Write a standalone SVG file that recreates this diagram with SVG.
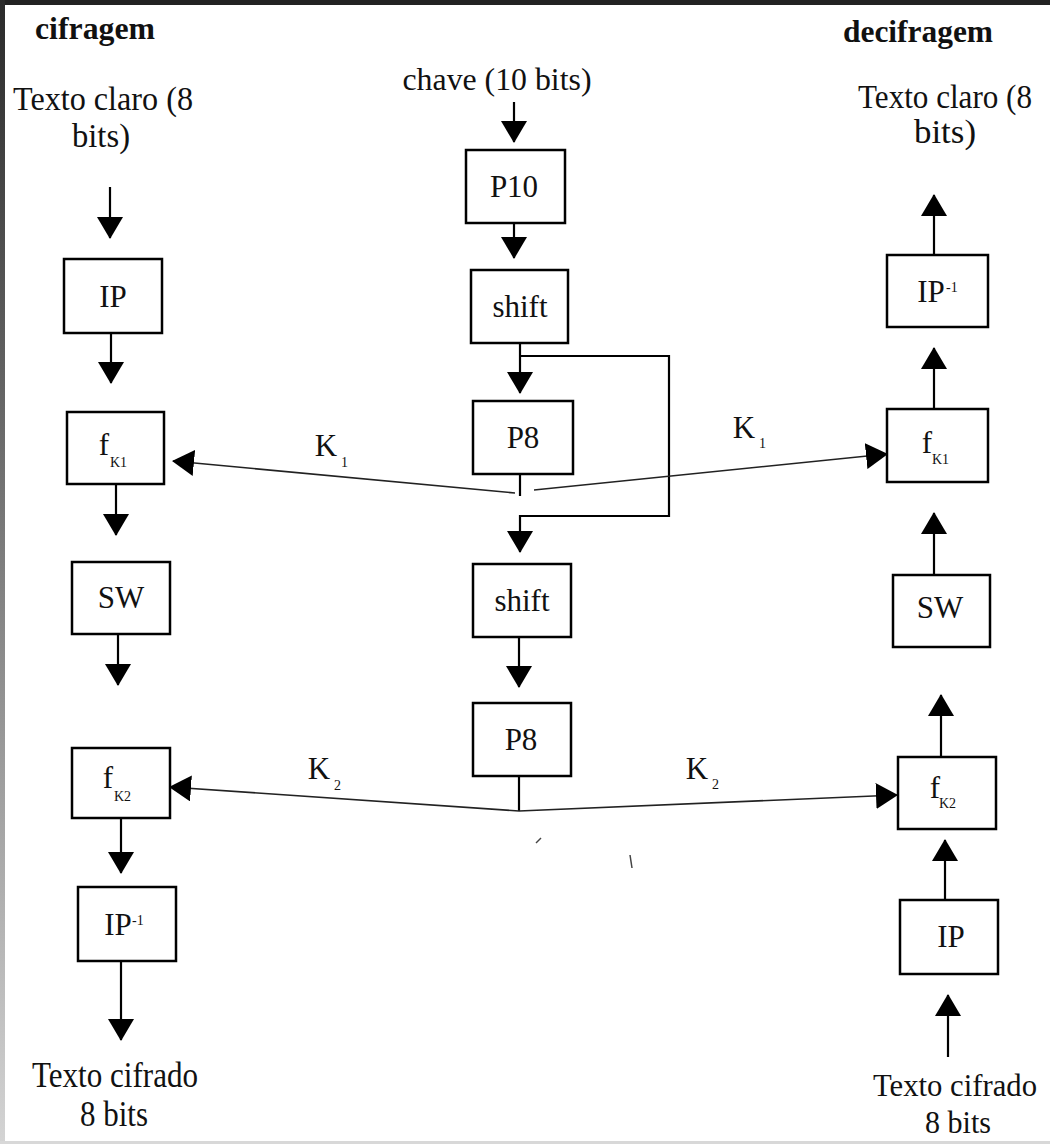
<svg xmlns="http://www.w3.org/2000/svg" width="1050" height="1144" viewBox="0 0 1050 1144">
<defs>
<linearGradient id="lb" x1="0" y1="0" x2="0" y2="1">
<stop offset="0" stop-color="#2a2a2a"/>
<stop offset="1" stop-color="#d4d4d4"/>
</linearGradient>
<marker id="ah" viewBox="0 0 22 26" refX="21" refY="13" markerWidth="22" markerHeight="26" markerUnits="userSpaceOnUse" orient="auto">
<path d="M0,0 L22,13 L0,26 Z" fill="#000"/>
</marker>
</defs>
<style>
.box{fill:#fff;stroke:#000;stroke-width:2.5}
.t{font-family:"Liberation Serif","Times New Roman",serif;font-size:31px;fill:#111;text-anchor:middle}
.m{font-size:33px}
.b{font-size:35px}
.h{font-weight:bold}
.s{font-family:"Liberation Serif","Times New Roman",serif;font-size:14px;fill:#111}
.c{fill:none;stroke:#000;stroke-width:2.2}
.k{fill:none;stroke:#222;stroke-width:1.6}
.a{marker-end:url(#ah)}
</style>
<rect x="0" y="0" width="1050" height="1144" fill="#fff"/>
<rect x="0" y="0" width="1050" height="5" fill="#222"/>
<rect x="0" y="0" width="5" height="1144" fill="url(#lb)"/>
<rect x="0" y="1141" width="1050" height="3" fill="#d8d8d8"/>

<g id="connectors">
<line class="c a" x1="110" y1="187" x2="110" y2="238"/>
<line class="c a" x1="111" y1="333" x2="111" y2="383"/>
<line class="c a" x1="116" y1="484" x2="116" y2="535"/>
<line class="c a" x1="118" y1="634" x2="118" y2="685"/>
<line class="c a" x1="121" y1="818" x2="121" y2="873"/>
<line class="c a" x1="121" y1="961" x2="121" y2="1040"/>

<line class="c a" x1="514" y1="102" x2="514" y2="142"/>
<line class="c a" x1="514" y1="223" x2="514" y2="258"/>
<line class="c a" x1="520" y1="343" x2="520" y2="393"/>
<path class="c a" d="M520,356 H669 V516 H520 V552"/>
<line class="c" x1="520" y1="474" x2="520" y2="496"/>
<line class="k a" x1="515" y1="493" x2="173" y2="461"/>
<line class="k a" x1="534" y1="490" x2="887" y2="454"/>
<line class="c a" x1="519" y1="637" x2="519" y2="687"/>
<line class="c" x1="519" y1="776" x2="519" y2="811"/>
<line class="k a" x1="519" y1="811" x2="170" y2="787"/>
<line class="k a" x1="519" y1="811" x2="897" y2="795"/>

<line class="c a" x1="934" y1="255" x2="934" y2="195"/>
<line class="c a" x1="934" y1="409" x2="934" y2="348"/>
<line class="c a" x1="934" y1="575" x2="934" y2="513"/>
<line class="c a" x1="941" y1="757" x2="941" y2="695"/>
<line class="c a" x1="945" y1="900" x2="945" y2="840"/>
<line class="c a" x1="948" y1="1057" x2="948" y2="995"/>

<line x1="536" y1="843" x2="541" y2="838" stroke="#444" stroke-width="1.5"/>
<line x1="630" y1="855" x2="632" y2="868" stroke="#444" stroke-width="1.5"/>
</g>

<g id="labels">
<text class="t h" x="95" y="39" textLength="120" lengthAdjust="spacingAndGlyphs">cifragem</text>
<text class="t h" x="918" y="42" textLength="150" lengthAdjust="spacingAndGlyphs">decifragem</text>
<text class="t m" x="103" y="110" textLength="180" lengthAdjust="spacingAndGlyphs">Texto claro (8</text>
<text class="t m" x="101" y="147" textLength="58" lengthAdjust="spacingAndGlyphs">bits)</text>
<text class="t m" x="945" y="108" textLength="174" lengthAdjust="spacingAndGlyphs">Texto claro (8</text>
<text class="t m" x="945" y="143" textLength="62" lengthAdjust="spacingAndGlyphs">bits)</text>
<text class="t" x="497" y="90" font-size="32" textLength="189" lengthAdjust="spacingAndGlyphs">chave (10 bits)</text>
<text class="t b" x="115" y="1087" textLength="166" lengthAdjust="spacingAndGlyphs">Texto cifrado</text>
<text class="t b" x="114" y="1126" textLength="68" lengthAdjust="spacingAndGlyphs">8 bits</text>
<text class="t" x="955" y="1096" font-size="33" textLength="164" lengthAdjust="spacingAndGlyphs">Texto cifrado</text>
<text class="t" x="958" y="1133" font-size="33" textLength="66" lengthAdjust="spacingAndGlyphs">8 bits</text>
<text class="t" x="326" y="456">K</text><text class="s" x="341" y="467">1</text>
<text class="t" x="744" y="438">K</text><text class="s" x="759" y="448">1</text>
<text class="t" x="319" y="779">K</text><text class="s" x="334" y="790">2</text>
<text class="t" x="697" y="779">K</text><text class="s" x="712" y="789">2</text>
</g>

<g id="n-ip-l"><rect class="box" x="64" y="259" width="98" height="74"/><text class="t" x="113" y="307">IP</text></g>
<g id="n-fk1-l"><rect class="box" x="67" y="412" width="97" height="72"/><text class="t" x="104" y="455">f</text><text class="s" x="110" y="467">K1</text></g>
<g id="n-sw-l"><rect class="box" x="72" y="562" width="98" height="72"/><text class="t" x="121" y="608">SW</text></g>
<g id="n-fk2-l"><rect class="box" x="72" y="748" width="98" height="70"/><text class="t" x="108" y="788">f</text><text class="s" x="114" y="801">K2</text></g>
<g id="n-ipinv-l"><rect class="box" x="78" y="887" width="98" height="74"/><text class="t" x="118" y="935">IP</text><text class="s" x="132" y="925">-1</text></g>

<g id="n-p10"><rect class="box" x="466" y="150" width="99" height="73"/><text class="t" x="514" y="197">P10</text></g>
<g id="n-shift1"><rect class="box" x="471" y="270" width="97" height="73"/><text class="t" x="520" y="317">shift</text></g>
<g id="n-p8a"><rect class="box" x="473" y="401" width="100" height="73"/><text class="t" x="523" y="448">P8</text></g>
<g id="n-shift2"><rect class="box" x="473" y="564" width="98" height="73"/><text class="t" x="522" y="611">shift</text></g>
<g id="n-p8b"><rect class="box" x="473" y="703" width="98" height="73"/><text class="t" x="521" y="750">P8</text></g>

<g id="n-ipinv-r"><rect class="box" x="887" y="255" width="101" height="72"/><text class="t" x="931" y="302">IP</text><text class="s" x="946" y="292">-1</text></g>
<g id="n-fk1-r"><rect class="box" x="887" y="409" width="101" height="73"/><text class="t" x="927" y="453">f</text><text class="s" x="932" y="464">K1</text></g>
<g id="n-sw-r"><rect class="box" x="893" y="575" width="97" height="72"/><text class="t" x="940" y="618">SW</text></g>
<g id="n-fk2-r"><rect class="box" x="898" y="757" width="98" height="72"/><text class="t" x="935" y="798">f</text><text class="s" x="939" y="808">K2</text></g>
<g id="n-ip-r"><rect class="box" x="900" y="900" width="98" height="74"/><text class="t" x="951" y="947">IP</text></g>
</svg>
